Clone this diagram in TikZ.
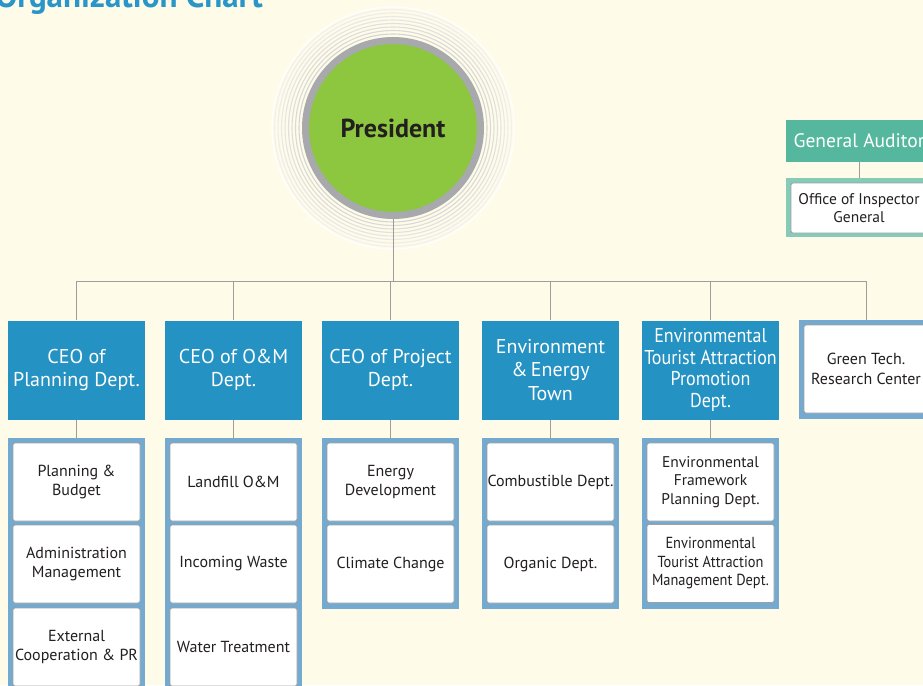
\documentclass[tikz,border=0pt]{standalone}
\usepackage{fontspec}
\setmainfont{PT Sans}
\newfontfamily\narrowfont[FakeStretch=0.9]{PT Sans}
\definecolor{cbg}{HTML}{FEFBE9}
\definecolor{cblue}{HTML}{2492C2}
\definecolor{cframe}{HTML}{74AAD0}
\definecolor{cgreen}{HTML}{8DC63F}
\definecolor{cring}{HTML}{A7A9AC}
\definecolor{cline}{HTML}{9D9D9D}
\definecolor{cteal}{HTML}{55B89E}
\definecolor{ctealframe}{HTML}{86CAB8}
\definecolor{ctitle}{HTML}{2A95C8}
\definecolor{cborder}{HTML}{A0A0A0}
\definecolor{ctext}{HTML}{231F20}
\tikzset{
  headbox/.style={fill=cblue, text=white, minimum width=137, minimum height=99, align=center, inner sep=0pt, font=\fontsize{20}{23.5}\selectfont},
  framebox/.style={fill=cframe, draw=none, inner sep=0pt, minimum width=137},
  subbox/.style={fill=white, draw=cborder, line width=0.8pt, rounded corners=2pt, minimum width=127, minimum height=78, align=center, inner sep=0pt, text=ctext, font=\fontsize{16}{19.5}\selectfont},
  conn/.style={draw=cline, line width=0.9pt},
}
\begin{document}
\begin{tikzpicture}[x=1pt,y=-1pt]
\clip (0,0) rectangle (923,685);
\fill[cbg] (0,0) rectangle (923,685);
% title
\node[anchor=base east, inner sep=0pt, text=ctitle, font=\fontsize{33}{35}\selectfont\bfseries] (title) at (263,7.5) {Organization Chart};
% president rings
\foreach \r/\c in {121/white, 118.5/gray!12, 115/gray!15, 111.5/gray!18, 108/gray!21, 104.5/gray!24, 101/gray!27, 97.5/gray!30, 94/gray!34}
  \draw[\c, line width=1.1pt] (393,128) circle (\r);
\node[circle, fill=cgreen, draw=cring, line width=7pt, minimum size=175, inner sep=0pt, text=ctext, font=\fontsize{26}{28}\selectfont\bfseries] (pres) at (393,128) {President};
% bus
\coordinate (bus) at (393,281);
% heads
\node[headbox] (h1) at (76.5,370) {CEO of\\Planning Dept.};
\node[headbox] (h2) at (233.5,370) {CEO of O\&M\\Dept.};
\node[headbox] (h3) at (390.5,370) {CEO of Project\\Dept.};
\node[headbox] (h4) at (550.5,370) {Environment\\\&\,Energy\\Town};
\node[headbox, font=\narrowfont\fontsize{20}{21.5}\selectfont] (h5) at (710.5,370) {Environmental\\Tourist Attraction\\Promotion\\Dept.};
\node[framebox, minimum width=134, minimum height=99] (g6) at (866,369.5) {};
\node[subbox, minimum width=124, minimum height=88] (h6) at (866,369) {Green Tech.\\Research Center};
% frames
\node[framebox, minimum height=254] (f1) at (76.5,565) {};
\node[framebox, minimum height=254] (f2) at (233.5,565) {};
\node[framebox, minimum height=171] (f3) at (390.5,523.5) {};
\node[framebox, minimum height=171] (f4) at (550.5,523.5) {};
\node[framebox, minimum height=171] (f5) at (710.5,523.5) {};
% sub boxes
\node[subbox] (s11) at (76.5,482) {Planning \&\\Budget};
\node[subbox] (s12) at (76.5,564) {Administration\\Management};
\node[subbox] (s13) at (76.5,647) {External\\Cooperation \& PR};
\node[subbox] (s21) at (233.5,482) {Landfill O\&M};
\node[subbox] (s22) at (233.5,564) {Incoming Waste};
\node[subbox] (s23) at (233.5,647) {Water Treatment};
\node[subbox] (s31) at (390.5,482) {Energy\\Development};
\node[subbox] (s32) at (390.5,564) {Climate Change};
\node[subbox] (s41) at (550.5,482) {Combustible Dept.};
\node[subbox] (s42) at (550.5,564) {Organic Dept.};
\node[subbox, font=\fontsize{15.5}{18.5}\selectfont] (s51) at (710.5,482) {Environmental\\Framework\\Planning Dept.};
\node[subbox, font=\narrowfont\fontsize{16}{18.5}\selectfont] (s52) at (710.5,563.5) {Environmental\\Tourist Attraction\\Management Dept.};
% general auditor
\node[fill=cteal, text=white, minimum width=146, minimum height=42, inner sep=0pt, font=\fontsize{19.5}{21}\selectfont] (aud) at (859,141) {General Auditor};
\node[fill=ctealframe, minimum width=146, minimum height=59, inner sep=0pt] (af) at (859,207.5) {};
\node[subbox, minimum width=136, minimum height=50, font=\fontsize{15.5}{17.5}\selectfont] (oig) at (859,208) {Office of Inspector\\General};
% connectors
\draw[conn] (pres.south) -- (bus);
\draw[conn] (bus) -| (h1.north);
\draw[conn] (bus) -| (h2.north);
\draw[conn] (bus) -| (h3.north);
\draw[conn] (bus) -| (h4.north);
\draw[conn] (bus) -| (h5.north);
\draw[conn] (bus) -| (g6.north);
\draw[conn] (h1.south) -- (f1.north);
\draw[conn] (h2.south) -- (f2.north);
\draw[conn] (h3.south) -- (f3.north);
\draw[conn] (h4.south) -- (f4.north);
\draw[conn] (h5.south) -- (f5.north);
\draw[conn] (aud.south) -- (af.north);
\end{tikzpicture}
\end{document}
